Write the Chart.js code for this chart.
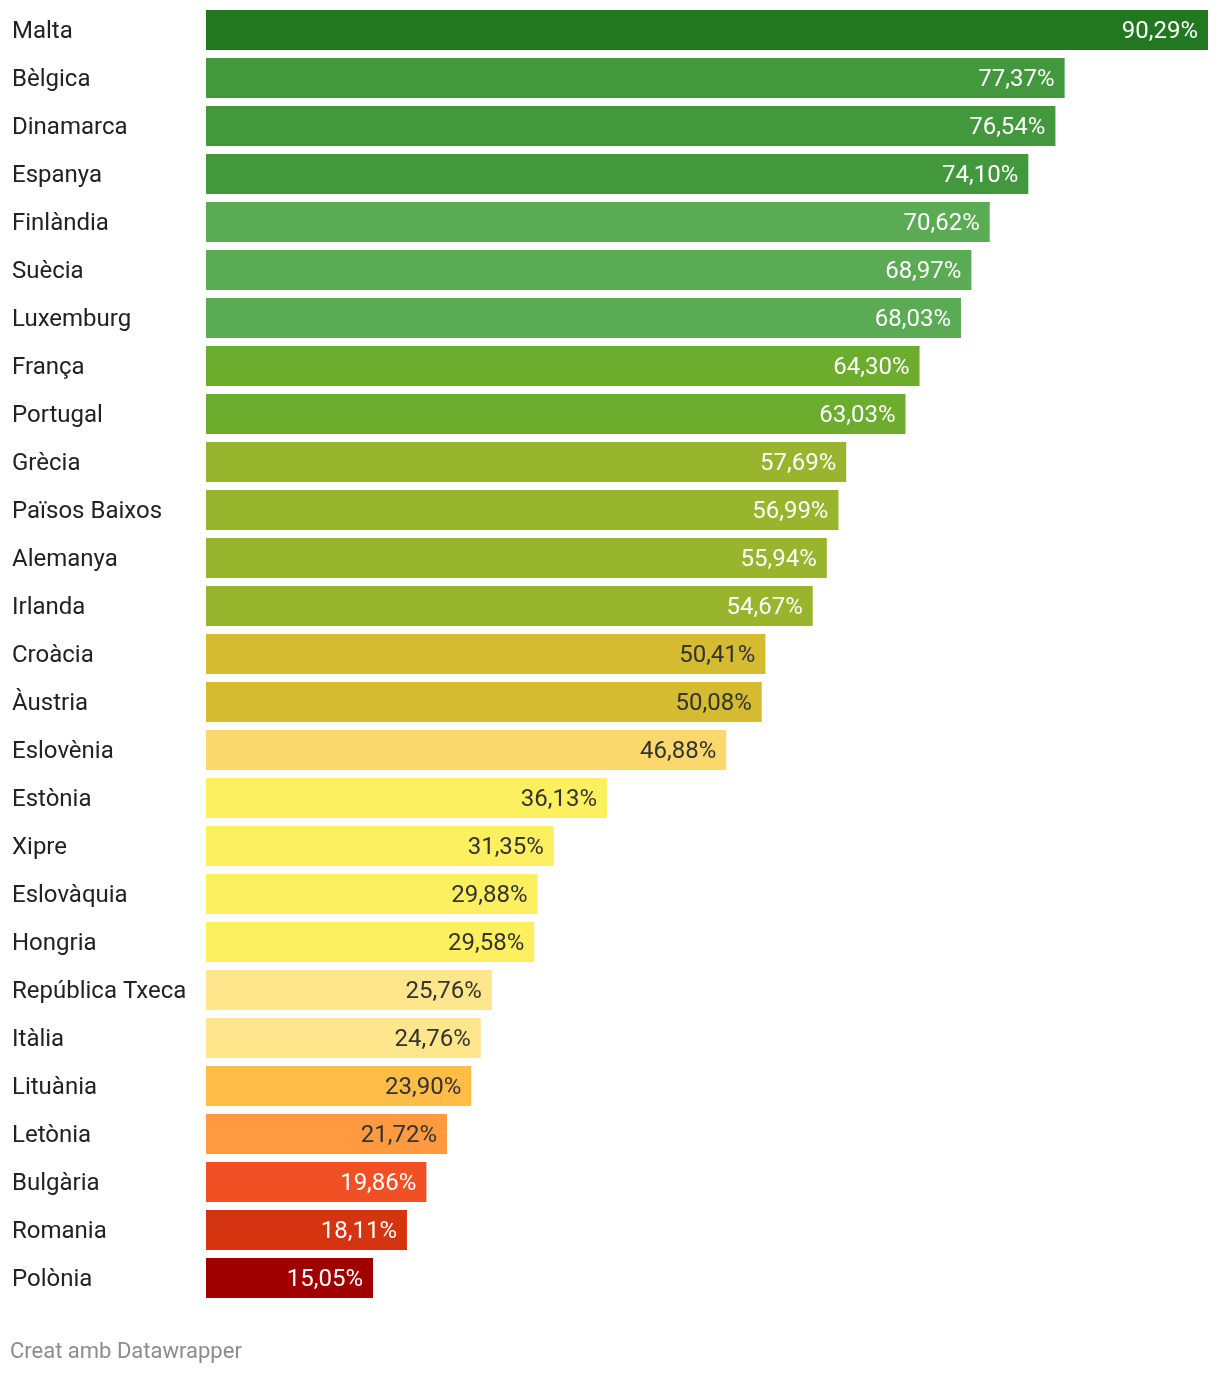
<!DOCTYPE html>
<html>
<head>
<meta charset="utf-8">
<script src="https://cdn.jsdelivr.net/npm/chart.js@4/dist/chart.umd.min.js"></script>
<style>
    body { margin: 0; background: #fff; }
    #wrap { position: relative; width: 1220px; height: 1374px; }
    #footer {
        position: absolute; left: 10px; top: 1338px;
        font-family: Roboto, sans-serif; font-size: 22px; color: #8c8c8c;
    }
</style>
</head>
<body>
<div id="wrap">
    <canvas id="myChart" width="1220" height="1374"></canvas>
    <div id="footer">Creat amb Datawrapper</div>
</div>
<script>
const countries = ['Malta', 'Bèlgica', 'Dinamarca', 'Espanya', 'Finlàndia', 'Suècia', 'Luxemburg',
    'França', 'Portugal', 'Grècia', 'Països Baixos', 'Alemanya', 'Irlanda', 'Croàcia', 'Àustria',
    'Eslovènia', 'Estònia', 'Xipre', 'Eslovàquia', 'Hongria', 'República Txeca', 'Itàlia',
    'Lituània', 'Letònia', 'Bulgària', 'Romania', 'Polònia'];

const values = [90.29, 77.37, 76.54, 74.10, 70.62, 68.97, 68.03, 64.30, 63.03, 57.69, 56.99,
    55.94, 54.67, 50.41, 50.08, 46.88, 36.13, 31.35, 29.88, 29.58, 25.76, 24.76, 23.90,
    21.72, 19.86, 18.11, 15.05];

const barColors = ['#217821', '#43983e', '#43983e', '#43983e', '#5aab53', '#5aab53', '#5aab53',
    '#6cad2d', '#6cad2d', '#98b52d', '#98b52d', '#98b52d', '#98b52d', '#d5bb30', '#d5bb30',
    '#fad86d', '#fdf060', '#fdf060', '#fdf060', '#fdf060', '#fde68c', '#fde68c', '#ffbc47',
    '#ff9a40', '#f05024', '#d43510', '#a00000'];

// light bars get dark value text
const darkText = ['#d5bb30', '#fad86d', '#fdf060', '#fde68c', '#ffbc47', '#ff9a40'];

const labelsPlugin = {
    id: 'labelsPlugin',
    afterDatasetsDraw(chart) {
        let ctx = chart.ctx;
        let yScale = chart.scales.y;
        let meta = chart.getDatasetMeta(0);
        ctx.save();
        ctx.font = '24px Roboto, sans-serif';
        ctx.textBaseline = 'middle';
        countries.forEach(function (name, i) {
            let y = yScale.getPixelForValue(i);
            ctx.fillStyle = '#222';
            ctx.textAlign = 'left';
            ctx.fillText(name, 12, y + 2);

            let bar = meta.data[i];
            ctx.fillStyle = darkText.includes(barColors[i]) ? '#333' : '#fff';
            ctx.textAlign = 'right';
            ctx.fillText(values[i].toFixed(2).replace('.', ',') + '%', bar.x - 10, y + 2);
        });
        ctx.restore();
    }
};

let ctx = document.getElementById('myChart');
let myChart = new Chart(ctx, {
    type: 'bar',
    data: {
        labels: countries,
        datasets: [{
            data: values,
            backgroundColor: barColors,
            borderWidth: 0,
            categoryPercentage: 40 / 48,
            barPercentage: 1
        }]
    },
    options: {
        indexAxis: 'y',
        responsive: false,
        animation: false,
        layout: {
            padding: {left: 206, right: 12, top: 6, bottom: 72}
        },
        plugins: {
            legend: {display: false},
            tooltip: {enabled: false}
        },
        scales: {
            x: {display: false, min: 0, max: 90.29},
            y: {display: false}
        }
    },
    plugins: [labelsPlugin]
});
</script>
</body>
</html>
